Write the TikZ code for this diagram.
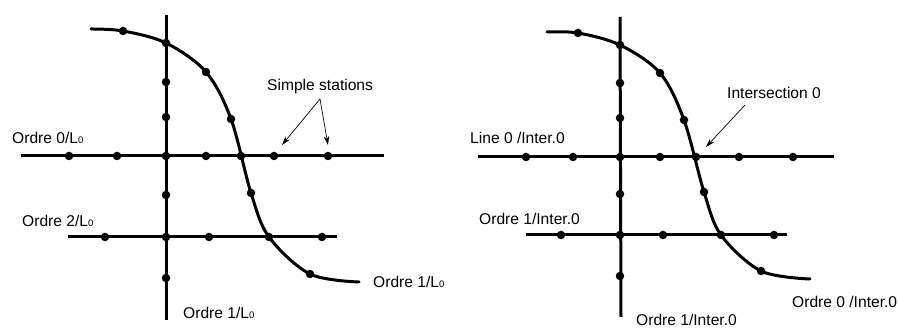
\documentclass[tikz,border=0pt]{standalone}
\usepackage{fontspec}
\setmainfont{Liberation Sans}
\usetikzlibrary{arrows.meta}
\newcommand{\Lsub}{L\raisebox{-0.5pt}{\fontsize{9.5}{9.5}\selectfont 0}}
\tikzset{
  axis/.style={line width=3pt},
  curveline/.style={line width=3pt, line cap=round},
  pointer/.style={line width=0.7pt, -{Stealth[length=9pt,width=5.5pt]}},
  lbl/.style={font=\fontsize{15.6}{18}\selectfont, inner sep=0pt, anchor=west},
  dotmark/.style={circle, fill=black, inner sep=0pt, minimum size=8.5pt},
}
\begin{document}
\begin{tikzpicture}[x=1pt,y=-1pt]
\useasboundingbox (0,0) rectangle (898,328);
% ---------------- Left panel ----------------
\coordinate (LvT) at (166,15);
\coordinate (LvB) at (166,320);
\coordinate (Lh0a) at (21,156);
\coordinate (Lh0b) at (384,156);
\coordinate (Lh2a) at (68,237);
\coordinate (Lh2b) at (337,237);
\draw[axis] (LvT) -- (LvB);
\draw[axis] (Lh0a) -- (Lh0b);
\draw[axis] (Lh2a) -- (Lh2b);
\draw[curveline] plot[smooth, tension=0.55] coordinates {(91,29) (123,31) (166,43) (206,72) (231,119) (251,193) (269,237) (310,274) (359,282)};
\foreach \x/\y in {123/31, 166/43, 206/72, 231/119, 251/193, 310/274,
                   69/156, 117/156, 166/156, 206/156, 241/156, 274/156, 328/156,
                   166/82, 166/117, 166/195, 166/278,
                   105/237, 166/237, 209/237, 269/237, 322/237}
  \node[dotmark] at (\x,\y) {};
\node[lbl] (Lo0) at (12,138) {Ordre 0/\Lsub};
\node[lbl] (Lo2) at (22,221) {Ordre 2/\Lsub};
\node[lbl] (Lo1r) at (373,282) {Ordre 1/\Lsub};
\node[lbl] (Lo1b) at (183,313) {Ordre 1/\Lsub};
\node[lbl] (Lss) at (267,86) {Simple stations};
\coordinate (Lsrc) at (320,99);
\coordinate (Ltg1) at (282,145);
\coordinate (Ltg2) at (328,145);
\draw[pointer] (Lsrc) -- (Ltg1);
\draw[pointer] (Lsrc) -- (Ltg2);
% ---------------- Right panel ----------------
\coordinate (RvT) at (620,17);
\coordinate (RvB) at (621,317);
\coordinate (Rh0a) at (478,157);
\coordinate (Rh0b) at (834,157);
\coordinate (Rh2a) at (526,235);
\coordinate (Rh2b) at (787,235);
\draw[axis] (RvT) -- (RvB);
\draw[axis] (Rh0a) -- (Rh0b);
\draw[axis] (Rh2a) -- (Rh2b);
\draw[curveline] plot[smooth, tension=0.55] coordinates {(547,32) (578,33) (620,45) (660,73) (684,120) (704,192) (721,235) (761,271) (810,279)};
\foreach \x/\y in {578/33, 620/45, 660/73, 684/120, 704/192, 761/271,
                   526/157, 573/157, 620/157, 660/157, 696/157, 739/157, 793/157,
                   620/83, 620/118, 620/194, 620/276,
                   561/235, 620/235, 663/235, 721/235, 774/235}
  \node[dotmark] at (\x,\y) {};
\node[lbl] (Rl0) at (470,138) {Line 0 /Inter.0};
\node[lbl] (Ro1) at (479,219) {Ordre 1/Inter.0};
\node[lbl] (Rint) at (727,93) {Intersection 0};
\node[lbl] (Ro0) at (792,302) {Ordre 0 /Inter.0};
\node[lbl] (Ro1b) at (636,320) {Ordre 1/Inter.0};
\coordinate (Rsrc) at (745,105);
\coordinate (Rtg) at (706,147);
\draw[pointer] (Rsrc) -- (Rtg);
\end{tikzpicture}
\end{document}
